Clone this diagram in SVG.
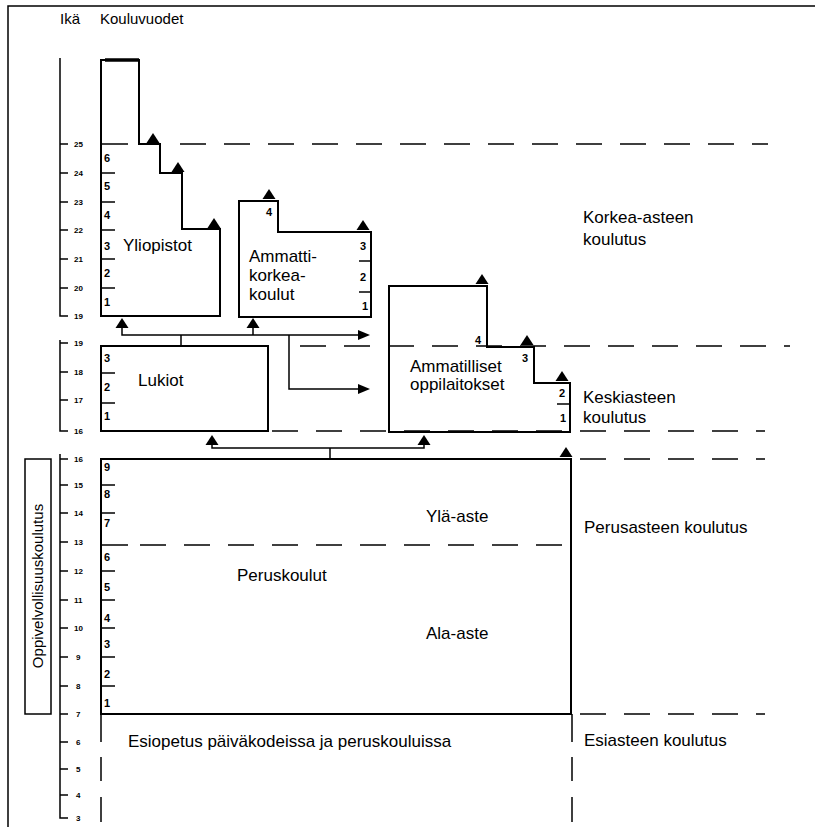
<svg xmlns="http://www.w3.org/2000/svg" width="815" height="827" viewBox="0 0 815 827">
<style>
.box{fill:none;stroke:#000;stroke-width:2}
.ln{fill:none;stroke:#000;stroke-width:1.5}
.dash{fill:none;stroke:#000;stroke-width:1.5;stroke-dasharray:26 18}
.tick{stroke:#000;stroke-width:1.5}
.lbl{font-family:"Liberation Sans",Arial,sans-serif;font-size:17px;fill:#000}
.hdr{font-family:"Liberation Sans",Arial,sans-serif;font-size:15px;fill:#000}
.num{font-family:"Liberation Sans",Arial,sans-serif;font-size:11px;font-weight:bold;fill:#000}
.age{font-family:"Liberation Sans",Arial,sans-serif;font-size:8px;font-weight:bold;fill:#000}
</style>
<defs>
<path id="tri" d="M-6.5,0 L6.5,0 L0,-10 Z" fill="#000"/>
<path id="rarr" d="M0,0 L-12,-5 L-12,5 Z" fill="#000"/>
</defs>
<rect width="815" height="827" fill="#fff"/>
<!-- frame -->
<path class="ln" d="M8,827 V6 H815"/>
<!-- header -->
<text class="hdr" x="60" y="24">Ikä</text>
<text class="hdr" x="100" y="24">Kouluvuodet</text>
<!-- age axis -->
<g id="age-axis">
<path class="ln" d="M60,58 V316 H68"/>
<path class="ln" d="M60,340 V431 H68"/>
<path class="ln" d="M60,454 V818 H68"/>
<g class="tick">
<line x1="60" y1="144" x2="68" y2="144"/><line x1="60" y1="173" x2="68" y2="173"/><line x1="60" y1="202" x2="68" y2="202"/><line x1="60" y1="230" x2="68" y2="230"/><line x1="60" y1="259" x2="68" y2="259"/><line x1="60" y1="288" x2="68" y2="288"/>
<line x1="60" y1="343" x2="68" y2="343"/><line x1="60" y1="372" x2="68" y2="372"/><line x1="60" y1="400" x2="68" y2="400"/>
<line x1="60" y1="459" x2="68" y2="459"/><line x1="60" y1="485" x2="68" y2="485"/><line x1="60" y1="513" x2="68" y2="513"/><line x1="60" y1="542" x2="68" y2="542"/><line x1="60" y1="571" x2="68" y2="571"/><line x1="60" y1="600" x2="68" y2="600"/><line x1="60" y1="628" x2="68" y2="628"/><line x1="60" y1="657" x2="68" y2="657"/><line x1="60" y1="686" x2="68" y2="686"/><line x1="60" y1="714" x2="68" y2="714"/><line x1="60" y1="742" x2="68" y2="742"/><line x1="60" y1="769" x2="68" y2="769"/><line x1="60" y1="795" x2="68" y2="795"/>
</g>
<text class="age" x="74" y="147">25</text><text class="age" x="74" y="176">24</text><text class="age" x="74" y="205">23</text><text class="age" x="74" y="233">22</text><text class="age" x="74" y="262">21</text><text class="age" x="74" y="291">20</text><text class="age" x="74" y="319">19</text>
<text class="age" x="74" y="346">19</text><text class="age" x="74" y="375">18</text><text class="age" x="74" y="403">17</text><text class="age" x="74" y="434">16</text>
<text class="age" x="74" y="462">16</text><text class="age" x="74" y="488">15</text><text class="age" x="74" y="516">14</text><text class="age" x="74" y="545">13</text><text class="age" x="74" y="574">12</text><text class="age" x="74" y="603">11</text><text class="age" x="74" y="631">10</text><text class="age" x="76" y="660">9</text><text class="age" x="76" y="689">8</text><text class="age" x="76" y="717">7</text><text class="age" x="76" y="745">6</text><text class="age" x="76" y="772">5</text><text class="age" x="76" y="798">4</text><text class="age" x="76" y="821">3</text>
</g>
<!-- level dashed lines -->
<g id="levels">
<line class="tick" x1="101" y1="144" x2="128" y2="144"/>
<line class="dash" x1="180" y1="144" x2="768" y2="144"/>
<line class="dash" x1="300" y1="346" x2="790" y2="346"/>
<line class="dash" x1="272" y1="431" x2="765" y2="431"/>
<line class="dash" x1="580" y1="459" x2="765" y2="459"/>
<line class="tick" x1="101" y1="545" x2="128" y2="545"/>
<line class="dash" x1="140" y1="545" x2="571" y2="545"/>
<line class="dash" x1="580" y1="714" x2="765" y2="714"/>
<path class="ln" d="M101,714 V742 M101,757 V781 M101,797 V822"/>
<path class="ln" d="M572,714 V742 M572,757 V781 M572,797 V822"/>
</g>
<g id="yliopistot">
<path class="box" d="M101,316 V60 H139 V144 H160 V173 H182 V229 H220 V316 Z"/>
<line x1="105" y1="60" x2="139" y2="60" stroke="#000" stroke-width="3.5"/>
<g class="tick"><line x1="101" y1="173" x2="115" y2="173"/><line x1="101" y1="202" x2="115" y2="202"/><line x1="101" y1="230" x2="115" y2="230"/><line x1="101" y1="259" x2="115" y2="259"/><line x1="101" y1="288" x2="115" y2="288"/></g>
<text class="num" x="104" y="162">6</text><text class="num" x="104" y="190">5</text><text class="num" x="104" y="219">4</text><text class="num" x="104" y="250">3</text><text class="num" x="104" y="277">2</text><text class="num" x="104" y="306">1</text>
<text class="lbl" x="123" y="251">Yliopistot</text>
<use href="#tri" x="153" y="143"/><use href="#tri" x="178" y="172"/><use href="#tri" x="214" y="228"/>
</g>
<g id="amk">
<path class="box" d="M239,317 V201 H278 V232 H371 V317 Z"/>
<g class="tick"><line x1="359" y1="261" x2="371" y2="261"/><line x1="359" y1="292" x2="371" y2="292"/></g>
<text class="num" x="266" y="216">4</text><text class="num" x="360" y="250">3</text><text class="num" x="360" y="281">2</text><text class="num" x="362" y="310">1</text>
<text class="lbl" x="249" y="262">Ammatti-</text><text class="lbl" x="249" y="281">korkea-</text><text class="lbl" x="249" y="300">koulut</text>
<use href="#tri" x="269" y="199"/><use href="#tri" x="363" y="230"/>
</g>
<g id="ammatilliset">
<path class="box" d="M389,432 V286 H487 V347 H534 V383 H570 V432 Z"/>
<line class="tick" x1="557" y1="404" x2="570" y2="404"/>
<text class="num" x="475" y="344">4</text><text class="num" x="522" y="362">3</text><text class="num" x="559" y="397">2</text><text class="num" x="560" y="422">1</text>
<text class="lbl" x="410" y="372">Ammatilliset</text><text class="lbl" x="410" y="390">oppilaitokset</text>
<use href="#tri" x="482" y="284"/><use href="#tri" x="527" y="345"/><use href="#tri" x="562" y="381"/>
</g>
<g id="lukiot">
<rect class="box" x="101" y="346" width="167" height="85"/>
<g class="tick"><line x1="101" y1="373" x2="115" y2="373"/><line x1="101" y1="403" x2="115" y2="403"/></g>
<text class="num" x="104" y="362">3</text><text class="num" x="104" y="391">2</text><text class="num" x="104" y="420">1</text>
<text class="lbl" x="138" y="386">Lukiot</text>
</g>
<g id="peruskoulut">
<rect class="box" x="101" y="459" width="470" height="255"/>
<g class="tick"><line x1="101" y1="485" x2="115" y2="485"/><line x1="101" y1="513" x2="115" y2="513"/><line x1="101" y1="571" x2="115" y2="571"/><line x1="101" y1="600" x2="115" y2="600"/><line x1="101" y1="628" x2="115" y2="628"/><line x1="101" y1="657" x2="115" y2="657"/><line x1="101" y1="686" x2="115" y2="686"/></g>
<text class="num" x="104" y="471">9</text><text class="num" x="104" y="498">8</text><text class="num" x="104" y="527">7</text><text class="num" x="104" y="561">6</text><text class="num" x="104" y="591">5</text><text class="num" x="104" y="622">4</text><text class="num" x="104" y="648">3</text><text class="num" x="104" y="678">2</text><text class="num" x="104" y="707">1</text>
<text class="lbl" x="426" y="522">Ylä-aste</text>
<text class="lbl" x="237" y="581">Peruskoulut</text>
<text class="lbl" x="426" y="639">Ala-aste</text>
<use href="#tri" x="566" y="457"/>
</g>
<g id="esiopetus">
<text class="lbl" x="128" y="747">Esiopetus päiväkodeissa ja peruskouluissa</text>
</g>
<g id="oppivelvollisuus">
<rect x="25" y="459" width="26" height="255" fill="none" stroke="#000" stroke-width="1.5"/>
<text class="hdr" transform="translate(43,586) rotate(-90)" text-anchor="middle" font-size="14">Oppivelvollisuuskoulutus</text>
</g>
<g id="level-labels">
<text class="lbl" x="583" y="223">Korkea-asteen</text><text class="lbl" x="583" y="245">koulutus</text>
<text class="lbl" x="583" y="403">Keskiasteen</text><text class="lbl" x="583" y="423">koulutus</text>
<text class="lbl" x="584" y="533">Perusasteen koulutus</text>
<text class="lbl" x="584" y="746">Esiasteen koulutus</text>
</g>
<g id="connectors">
<path class="ln" d="M330,459 V448 M212,445 V448 H424 V445"/>
<use href="#tri" x="212" y="445"/><use href="#tri" x="424" y="445"/>
<path class="ln" d="M181,346 V335 M122,328 V335 H360 M253,328 V335 M289,335 V389 H360"/>
<use href="#tri" x="122" y="328"/><use href="#tri" x="253" y="328"/>
<use href="#rarr" x="370" y="335"/><use href="#rarr" x="370" y="389"/>
</g>
</svg>
